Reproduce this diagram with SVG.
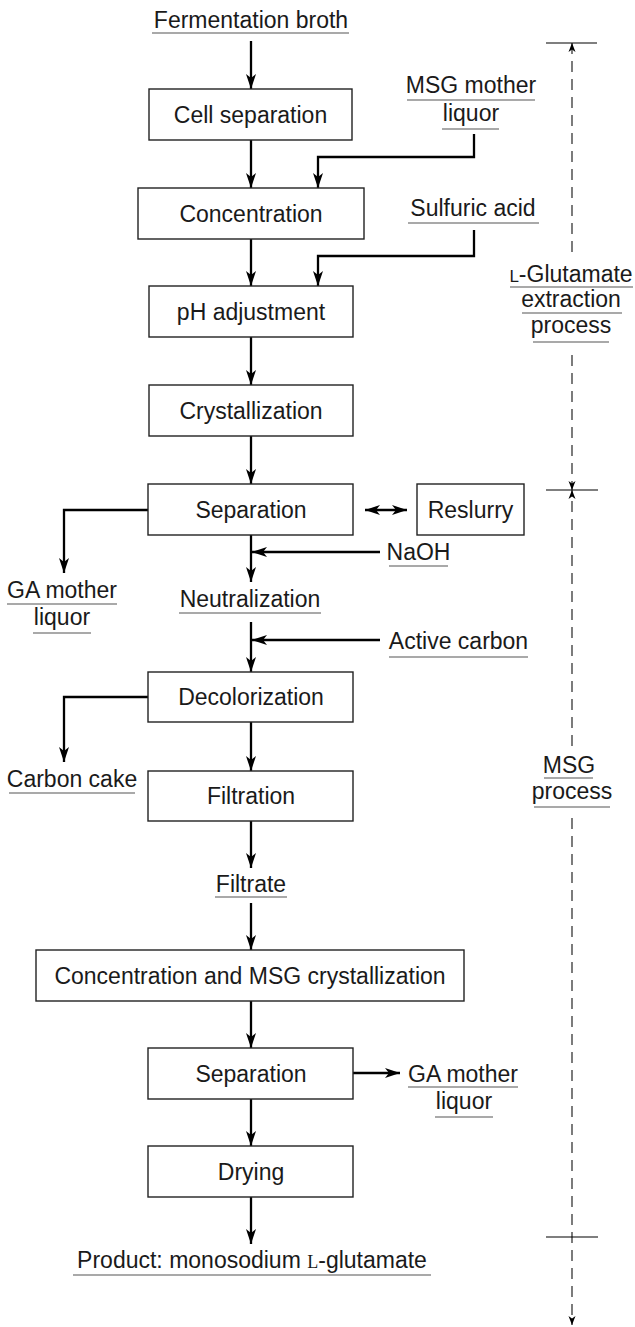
<svg xmlns="http://www.w3.org/2000/svg" width="635" height="1327" viewBox="0 0 635 1327">
<style>
.box{fill:#fff;stroke:#222;stroke-width:1.4}
.t{font-family:"Liberation Sans",Arial,sans-serif;font-size:23px;fill:#1a1a1a;text-anchor:middle}
.ul{stroke:#555;stroke-width:1.2}
.c{stroke:#000;stroke-width:2.3;fill:none}
.d{stroke:#111;stroke-width:1.1;stroke-dasharray:11 7;fill:none}
.tick{stroke:#000;stroke-width:1.2}
</style>
<defs>
<marker id="ah" markerUnits="userSpaceOnUse" viewBox="-16 -6 17 12" refX="0" refY="0" markerWidth="17" markerHeight="12" orient="auto-start-reverse"><path d="M0,0 L-15,-5 L-11,0 L-15,5 Z" fill="#000"/></marker>
<marker id="sh" markerUnits="userSpaceOnUse" viewBox="-10 -5 11 10" refX="0" refY="0" markerWidth="11" markerHeight="10" orient="auto"><path d="M0,0 L-9,-3.5 L-6.5,0 L-9,3.5 Z" fill="#000"/></marker>
</defs>

<g id="connectors">
<path class="c" marker-end="url(#ah)" d="M251,41 V89"/>
<path class="c" marker-end="url(#ah)" d="M251,140 V188"/>
<path class="c" marker-end="url(#ah)" d="M251,239 V286"/>
<path class="c" marker-end="url(#ah)" d="M251,337 V385"/>
<path class="c" marker-end="url(#ah)" d="M251,436 V484"/>
<path class="c" marker-end="url(#ah)" d="M251,535 V582"/>
<path class="c" marker-end="url(#ah)" d="M251,622 V672"/>
<path class="c" marker-end="url(#ah)" d="M251,722 V771"/>
<path class="c" marker-end="url(#ah)" d="M251,821 V868"/>
<path class="c" marker-end="url(#ah)" d="M251,903 V950"/>
<path class="c" marker-end="url(#ah)" d="M251,1001 V1048"/>
<path class="c" marker-end="url(#ah)" d="M251,1099 V1146"/>
<path class="c" marker-end="url(#ah)" d="M251,1197 V1244"/>
<path class="c" marker-end="url(#ah)" d="M474,134 V157 H318 V188"/>
<path class="c" marker-end="url(#ah)" d="M474,230 V256 H318 V286"/>
<path class="c" marker-end="url(#ah)" d="M148,510 H64 V573"/>
<path class="c" marker-end="url(#ah)" d="M380,552 H252"/>
<path class="c" marker-end="url(#ah)" d="M380,640 H252"/>
<path class="c" marker-end="url(#ah)" d="M148,697 H64 V762"/>
<path class="c" marker-end="url(#ah)" d="M353,1073 H400"/>
<path class="c" marker-start="url(#ah)" marker-end="url(#ah)" d="M365,510 H407"/>
</g>

<g id="scale">
<path class="d" marker-end="url(#sh)" d="M572,252 V43"/>
<path class="d" marker-end="url(#sh)" d="M572,355 V490"/>
<path class="d" marker-end="url(#sh)" d="M572,746 V490"/>
<path class="d" marker-end="url(#sh)" d="M572,818 V1325"/>
<line class="tick" x1="546" y1="43" x2="597" y2="43"/>
<line class="tick" x1="546" y1="490" x2="598" y2="490"/>
<line class="tick" x1="546" y1="1237" x2="598" y2="1237"/>
</g>

<g id="fermentation-broth">
<text class="t" x="251" y="28">Fermentation broth</text>
<line class="ul" x1="152" y1="33" x2="349" y2="33"/>
</g>
<g id="cell-separation">
<rect class="box" x="149" y="89" width="203" height="51"/>
<text class="t" x="250.5" y="123">Cell separation</text>
</g>
<g id="concentration">
<rect class="box" x="138" y="188" width="226" height="51"/>
<text class="t" x="251" y="222">Concentration</text>
</g>
<g id="ph-adjustment">
<rect class="box" x="149" y="286" width="204" height="51"/>
<text class="t" x="251" y="320">pH adjustment</text>
</g>
<g id="crystallization">
<rect class="box" x="149" y="385" width="204" height="51"/>
<text class="t" x="251" y="419">Crystallization</text>
</g>
<g id="separation-1">
<rect class="box" x="148" y="484" width="205" height="51"/>
<text class="t" x="251" y="518">Separation</text>
</g>
<g id="reslurry">
<rect class="box" x="417" y="484" width="107" height="51"/>
<text class="t" x="470.5" y="518">Reslurry</text>
</g>
<g id="msg-mother-liquor">
<text class="t" x="471" y="93">MSG mother</text>
<line class="ul" x1="407" y1="100" x2="535" y2="100"/>
<text class="t" x="471" y="121">liquor</text>
<line class="ul" x1="442" y1="129" x2="499" y2="129"/>
</g>
<g id="sulfuric-acid">
<text class="t" x="473" y="216">Sulfuric acid</text>
<line class="ul" x1="408" y1="223" x2="539" y2="223"/>
</g>
<g id="extraction-label">
<text class="t" x="571" y="282"><tspan font-size="17">L</tspan>-Glutamate</text>
<line class="ul" x1="510" y1="287" x2="633" y2="287"/>
<text class="t" x="571" y="307">extraction</text>
<line class="ul" x1="522" y1="313" x2="622" y2="313"/>
<text class="t" x="571" y="333">process</text>
<line class="ul" x1="533" y1="342" x2="609" y2="342"/>
</g>
<g id="ga-mother-liquor-1">
<text class="t" x="62" y="598">GA mother</text>
<line class="ul" x1="7" y1="604" x2="117" y2="604"/>
<text class="t" x="62" y="625">liquor</text>
<line class="ul" x1="33" y1="633" x2="91" y2="633"/>
</g>
<g id="naoh">
<text class="t" x="418.5" y="560">NaOH</text>
<line class="ul" x1="389" y1="566" x2="448" y2="566"/>
</g>
<g id="neutralization">
<text class="t" x="250" y="607">Neutralization</text>
<line class="ul" x1="179" y1="613" x2="321" y2="613"/>
</g>
<g id="active-carbon">
<text class="t" x="458.5" y="649">Active carbon</text>
<line class="ul" x1="389" y1="657" x2="528" y2="657"/>
</g>
<g id="decolorization">
<rect class="box" x="148" y="672" width="205" height="50"/>
<text class="t" x="251" y="705">Decolorization</text>
</g>
<g id="carbon-cake">
<text class="t" x="72" y="787">Carbon cake</text>
<line class="ul" x1="9" y1="793" x2="135" y2="793"/>
</g>
<g id="filtration">
<rect class="box" x="148" y="771" width="205" height="50"/>
<text class="t" x="251" y="804">Filtration</text>
</g>
<g id="filtrate">
<text class="t" x="251" y="892">Filtrate</text>
<line class="ul" x1="215" y1="897" x2="287" y2="897"/>
</g>
<g id="concentration-msg-crystallization">
<rect class="box" x="36" y="950" width="428" height="51"/>
<text class="t" x="250" y="984">Concentration and MSG crystallization</text>
</g>
<g id="separation-2">
<rect class="box" x="148" y="1048" width="205" height="51"/>
<text class="t" x="251" y="1082">Separation</text>
</g>
<g id="ga-mother-liquor-2">
<text class="t" x="463" y="1082">GA mother</text>
<line class="ul" x1="408" y1="1087" x2="518" y2="1087"/>
<text class="t" x="464" y="1109">liquor</text>
<line class="ul" x1="435" y1="1117" x2="493" y2="1117"/>
</g>
<g id="drying">
<rect class="box" x="148" y="1146" width="205" height="51"/>
<text class="t" x="251" y="1180">Drying</text>
</g>
<g id="msg-process-label">
<text class="t" x="569" y="773">MSG</text>
<line class="ul" x1="544" y1="778" x2="593" y2="778"/>
<text class="t" x="572" y="799">process</text>
<line class="ul" x1="534" y1="807" x2="610" y2="807"/>
</g>
<g id="product">
<text class="t" x="252" y="1268">Product: monosodium <tspan font-family="Liberation Serif" font-size="18">L</tspan>-glutamate</text>
<line class="ul" x1="73" y1="1275" x2="431" y2="1275"/>
</g>
</svg>
